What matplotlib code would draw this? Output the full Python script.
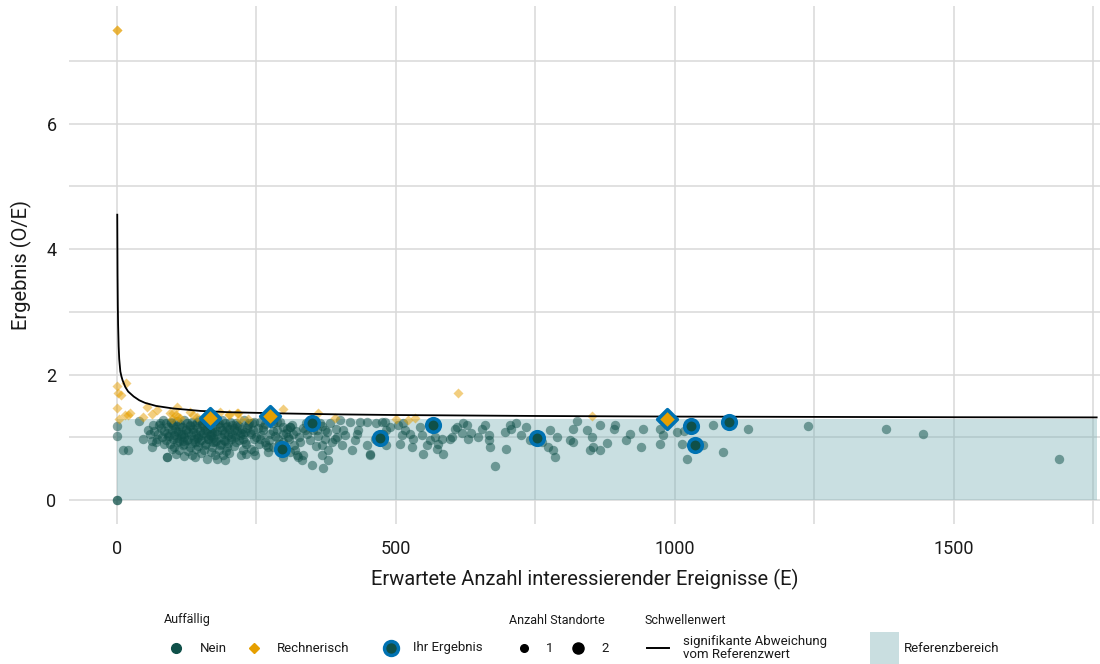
import matplotlib
matplotlib.use('Agg')
import matplotlib.pyplot as plt
from matplotlib.lines import Line2D
from matplotlib.patches import Rectangle

plt.rcParams['font.family'] = ['Roboto', 'DejaVu Sans']

# Schwellenwert
threshold_e = [0.5, 1, 1.5, 2, 3, 4, 6, 8, 10, 15, 20, 30, 40, 50, 70, 100, 150,
               200, 300, 400, 500, 750, 1000, 1250, 1500, 1756]
threshold_y = [4.55, 3.6, 3.1, 2.8, 2.45, 2.25, 2.05, 1.97, 1.91, 1.80, 1.73, 1.65,
               1.59, 1.55, 1.50, 1.46, 1.42, 1.40, 1.38, 1.365, 1.355, 1.34, 1.33,
               1.325, 1.32, 1.317]

# Referenzbereich
ref_upper = 1.29
ref_xmax = 1756

# Auffaellig: Nein
nein_e = [
    0, 0, 0, 0, 10, 20, 40, 47, 55, 62, 65, 60, 70, 89, 89, 161, 179, 193, 232,
    # dense cluster
    82, 96, 108, 121, 134, 147, 159, 176, 188, 203, 214, 228,
    75, 88, 101, 113, 126, 139, 152, 165, 181, 193, 207, 219, 236,
    79, 92, 104, 117, 130, 143, 156, 170, 184, 197, 210, 224,
    85, 98, 110, 123, 136, 149, 162, 174, 188, 201, 215, 229,
    73, 90, 103, 115, 128, 141, 154, 167, 180, 194, 207, 220,
    81, 94, 107, 120, 133, 146, 159, 172, 186, 199, 212, 226,
    87, 100, 112, 125, 138, 151, 164, 177, 191, 204, 218,
    95, 108, 121, 134, 147, 160, 173, 186, 199, 213,
    103, 118, 131, 145, 158, 171, 184, 197, 210,
    112, 127, 142, 156, 168, 182, 196,
    105, 135, 175, 200,
    97, 111, 124, 137, 150, 163, 176, 114, 127, 140, 153, 166, 179, 192, 205,
    105, 118, 131, 144, 157, 170, 183, 196, 209, 222, 118, 143, 168, 193, 216,
    233, 240, 245, 230, 250,
    # cluster shoulder
    238, 246, 252, 259, 266, 272, 279, 284, 291, 297, 303, 309, 314, 320, 327,
    333, 340, 346, 352, 360, 368, 376, 385, 392, 242, 255, 262, 270, 287, 300,
    318, 338, 356, 372, 66, 72, 78, 84, 92, 99, 63, 120, 140, 150, 190, 225, 245,
    # 220 - 310
    226, 235, 244, 256, 262, 274, 280, 286, 289, 298, 304, 256, 265, 232, 241,
    271, 280, 298, 307, 223, 247, 268, 310, 292, 298, 310, 331,
    # 310 - 490
    316, 319, 325, 334, 337, 328, 358, 364, 367, 367, 370, 373, 379, 379, 382,
    391, 400, 403, 406, 409, 418, 421, 427, 432, 435, 448, 448, 453, 462, 465,
    475, 483, 310, 322, 349, 394, 430, 453,
    # 477 - 600
    480, 489, 483, 477, 504, 513, 516, 525, 510, 507, 531, 528, 543, 546, 549,
    555, 561, 570, 576, 573, 585, 597, 582, 609,
    # 600 - 1150
    600, 606, 621, 627, 618, 630, 634, 654, 660, 648, 666, 667, 668, 677, 695,
    698, 704, 707, 716, 725, 734, 740, 761, 773, 776, 782, 785, 788, 812, 817,
    818, 824, 842, 848, 851, 854, 866, 866, 878, 890, 892, 913, 919, 940, 943,
    973, 973, 979, 1003, 1012, 1016, 1022, 1051, 1069, 1087, 1131,
    # far right
    1238, 1378, 1444, 1689,
]
nein_y = [
    0.0, 0.0, 1.18, 1.02, 0.79, 0.79, 1.26, 0.97, 1.12, 0.85, 1.2, 1.05, 0.93,
    0.68, 0.68, 0.66, 0.65, 0.63, 0.73,
    1.27, 1.24, 1.26, 1.28, 1.25, 1.27, 1.24, 1.26, 1.28, 1.25, 1.23, 1.27,
    1.2, 1.22, 1.19, 1.21, 1.23, 1.2, 1.22, 1.19, 1.21, 1.23, 1.2, 1.18, 1.22,
    1.15, 1.17, 1.14, 1.16, 1.18, 1.15, 1.17, 1.14, 1.16, 1.18, 1.15, 1.13,
    1.1, 1.12, 1.09, 1.11, 1.13, 1.1, 1.12, 1.09, 1.11, 1.13, 1.1, 1.08,
    1.05, 1.07, 1.04, 1.06, 1.08, 1.05, 1.07, 1.04, 1.06, 1.08, 1.05, 1.03,
    1.0, 1.02, 0.99, 1.01, 1.03, 1.0, 1.02, 0.99, 1.01, 1.03, 1.0, 0.98,
    0.95, 0.97, 0.94, 0.96, 0.98, 0.95, 0.97, 0.94, 0.96, 0.98, 0.95,
    0.9, 0.92, 0.89, 0.91, 0.93, 0.9, 0.92, 0.89, 0.91, 0.93,
    0.85, 0.87, 0.84, 0.86, 0.88, 0.85, 0.87, 0.84, 0.86,
    0.8, 0.78, 0.81, 0.79, 0.77, 0.8, 0.78,
    0.74, 0.72, 0.71, 0.75,
    1.23, 1.18, 1.13, 1.08, 1.03, 0.98, 0.93, 1.02, 0.97, 0.92, 1.2, 1.15, 1.1,
    1.05, 1.0, 1.1, 1.05, 1.19, 1.24, 1.12, 1.07, 1.22, 1.17, 1.12, 1.07, 0.94,
    0.99, 1.02, 0.94, 1.2, 1.15, 1.05, 1.25, 0.93, 1.0,
    1.08, 0.98, 1.15, 1.04, 1.21, 0.95, 1.1, 1.02, 0.9, 1.16, 1.07, 0.97, 1.2,
    1.1, 1.0, 1.15, 1.05, 0.95, 1.12, 1.02, 1.18, 1.08, 0.92, 1.14, 1.22, 0.9,
    1.12, 0.85, 1.24, 0.83, 0.88, 1.23, 0.86, 0.97, 1.1, 0.98, 1.23, 0.9, 1.02,
    0.82, 0.94, 0.7, 0.68, 0.75, 0.71, 0.8, 0.78,
    1.06, 1.2, 1.12, 1.25, 1.17, 1.06, 1.22, 1.12, 0.98, 1.06, 1.14, 0.98, 0.93,
    0.9, 0.82, 0.77, 0.85, 0.93, 1.01, 0.72, 0.72, 0.88, 1.17, 1.25, 0.69, 0.77,
    0.64,
    1.06, 0.8, 0.69, 0.72, 1.12, 0.93, 1.12, 1.22, 0.88, 0.72, 0.51, 1.12, 0.8,
    0.64, 1.22, 0.98, 1.28, 0.88, 1.12, 1.04, 1.25, 0.8, 0.96, 1.12, 1.25, 1.25,
    0.88, 0.72, 0.98, 1.22, 1.25, 0.88, 1.17, 0.72, 0.56, 1.01, 1.06, 0.74,
    1.25, 1.17, 1.12, 1.06, 1.2, 1.23, 1.12, 1.06, 1.04, 0.9, 0.98, 0.85, 1.17,
    1.04, 0.74, 0.88, 0.96, 1.01, 0.9, 0.82, 0.74, 0.98, 0.98, 1.17,
    1.01, 1.14, 1.22, 1.2, 1.07, 0.98, 1.07, 1.14, 1.19, 1.0, 1.04, 0.96, 0.84,
    0.54, 1.09, 0.82, 1.2, 1.14, 1.22, 1.04, 1.17, 0.96, 0.93, 0.84, 1.12, 0.79,
    0.69, 1.01, 0.96, 0.93, 1.14, 1.26, 1.12, 0.8, 1.01, 0.84, 0.8, 1.19, 0.91,
    1.14, 1.2, 0.96, 1.05, 0.85, 1.13, 0.89, 1.13, 1.04, 1.09, 0.9, 1.1, 0.65,
    0.88, 1.2, 0.76, 1.14,
    1.18, 1.13, 1.05, 0.66,
]

# Auffaellig: Rechnerisch
rech_e = [0, 0, 0, 17, 2, 8, 0, 4, 23, 14, 53, 47, 62, 71, 95, 98, 107, 106, 113,
          131, 137, 143, 185, 200, 215, 220, 235, 298, 361, 391, 501, 522, 534,
          612, 852, 20, 101, 110, 200, 217]
rech_y = [7.5, 7.5, 1.81, 1.86, 1.70, 1.67, 1.46, 1.29, 1.38, 1.36, 1.49, 1.33,
          1.37, 1.44, 1.38, 1.29, 1.49, 1.36, 1.30, 1.41, 1.36, 1.33, 1.41, 1.36,
          1.38, 1.29, 1.29, 1.45, 1.39, 1.31, 1.29, 1.28, 1.30, 1.70, 1.34, 1.36,
          1.38, 1.33, 1.37, 1.38]

# Ihr Ergebnis
ihr_nein_e = [349, 296, 471, 567, 753, 1029, 1036, 1097]
ihr_nein_y = [1.23, 0.81, 0.99, 1.19, 0.99, 1.175, 0.87, 1.25]
ihr_rech_e = [167, 274, 986]
ihr_rech_y = [1.30, 1.345, 1.29]

teal = '#0f5049'
orange = '#E69F00'
blue = '#0072B2'
W, H = 1100, 664

fig = plt.figure(figsize=(11, 6.64), dpi=100)
ax = fig.add_axes([69 / W, 1 - 523.5 / H, 1 - 69 / W, (523.5 - 6.2) / H])
ax.set_xlim(-86, 1762)
ax.set_ylim(-0.375, 7.875)
ax.set_xticks([0, 500, 1000, 1500])
ax.set_xticks([250, 750, 1250, 1750], minor=True)
ax.set_yticks([0, 2, 4, 6])
ax.set_yticks([1, 3, 5, 7], minor=True)
ax.set_axisbelow(True)
ax.grid(which='both', color='#d9d9d9', lw=1.1)
ax.tick_params(which='both', length=0, labelsize=13, colors='#1a1a1a')
ax.tick_params(axis='x', pad=12)
ax.tick_params(axis='y', pad=9)
for s in ax.spines.values():
    s.set_visible(False)

ax.fill_between([0, ref_xmax], 0, ref_upper, color='#7aafb4', alpha=0.4, lw=0, zorder=1.5)
ax.scatter(nein_e, nein_y, s=46, color=teal, alpha=0.5, lw=0, zorder=3)
ax.scatter(rech_e, rech_y, marker='D', s=26, color=orange, alpha=0.5, lw=0, zorder=3)
ax.plot(threshold_e, threshold_y, color='black', lw=1.3, zorder=4)
ax.scatter(ihr_nein_e, ihr_nein_y, s=95, color=teal, edgecolors=blue, lw=2.6, zorder=5)
ax.scatter(ihr_rech_e, ihr_rech_y, marker='D', s=100, color=orange, edgecolors=blue,
           lw=2.6, zorder=5)

ax.set_xlabel('Erwartete Anzahl interessierender Ereignisse (E)', fontsize=14.5,
              labelpad=8, color='#1a1a1a')
ax.set_ylabel('Ergebnis (O/E)', fontsize=14.5, labelpad=10, color='#1a1a1a')

# legend, drawn in pixel positions
lfont = dict(fontsize=9.5, color='#1a1a1a', va='center')


def fx(x):
    return x / W


def fy(y):
    return 1 - y / H


def key(x, y, **style):
    fig.add_artist(Line2D([fx(x)], [fy(y)], transform=fig.transFigure, **style))


def label(x, y, s, **kw):
    d = dict(lfont)
    d.update(kw)
    fig.text(fx(x), fy(y), s, **d)


row = 648
label(164, 620, 'Auffällig', fontsize=9)
key(176, row, marker='o', ms=7, color=teal, ls='none')
label(200, row, 'Nein')
key(254, row, marker='D', ms=5.5, color=orange, ls='none')
label(277, row, 'Rechnerisch')
key(391, row, marker='o', ms=10, mfc=teal, mec=blue, mew=2.5, ls='none')
label(413, row, 'Ihr Ergebnis')

label(509, 620, 'Anzahl Standorte', fontsize=9)
key(524, row, marker='o', ms=5.5, color='black', ls='none')
label(546, row, '1')
key(578, row, marker='o', ms=8, color='black', ls='none')
label(601, row, '2')

label(645, 620, 'Schwellenwert', fontsize=9)
fig.add_artist(Line2D([fx(647), fx(669)], [fy(row), fy(row)], transform=fig.transFigure,
                      color='black', lw=1.4))
label(683, row, 'signifikante Abweichung\nvom Referenzwert', linespacing=1.1)

fig.add_artist(Rectangle((fx(870), fy(664)), 29 / W, 32 / H, transform=fig.transFigure,
                         color='#c9dee0', lw=0))
label(904, row, 'Referenzbereich')

fig.savefig('out.png', dpi=100)
